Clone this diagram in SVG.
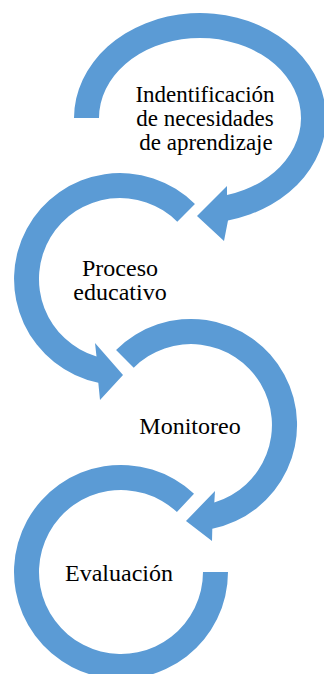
<svg xmlns="http://www.w3.org/2000/svg" width="324" height="674" viewBox="0 0 324 674">
<style>
.ring{fill:#5B9BD5;stroke:none}
text{font-family:'Liberation Serif','Times New Roman',serif;font-size:24px;fill:#000;text-anchor:middle}
.small{font-size:23px}
</style>
<rect width="324" height="674" fill="#fff"/>
<g id="node1">
<path class="ring" d="M74,118 A126,105 0 1 1 228,220.4 L224,241 L197,216 L227,186 L227,195.1 A101,80 0 1 0 99,118 Z"/>
<text class="small" x="205" y="102">Indentificación</text>
<text class="small" x="205" y="126">de necesidades</text>
<text class="small" x="206" y="150">de aprendizaje</text>
</g>
<g id="node2">
<path class="ring" d="M194.95,204.05 A106,106 0 1 0 98.3,382.8 L100,400 L123,375 L95,343 L96.5,356.5 A81,81 0 1 1 177.28,221.72 Z"/>
<text x="120" y="276">Proceso</text>
<text x="120" y="300">educativo</text>
</g>
<g id="node3">
<path class="ring" d="M116.05,350.05 A106,106 0 1 1 212.3,528.8 L212,541 L186,521 L215,491 L214.3,502.6 A81,81 0 1 0 133.72,367.72 Z"/>
<text x="190" y="434">Monitoreo</text>
</g>
<g id="node4">
<path class="ring" d="M228,572 A107,107 0 1 1 194,493.7 L176.9,512 A82,82 0 1 0 203,572 Z"/>
<text x="119" y="581">Evaluación</text>
</g>
<g id="connectors"/>
</svg>
